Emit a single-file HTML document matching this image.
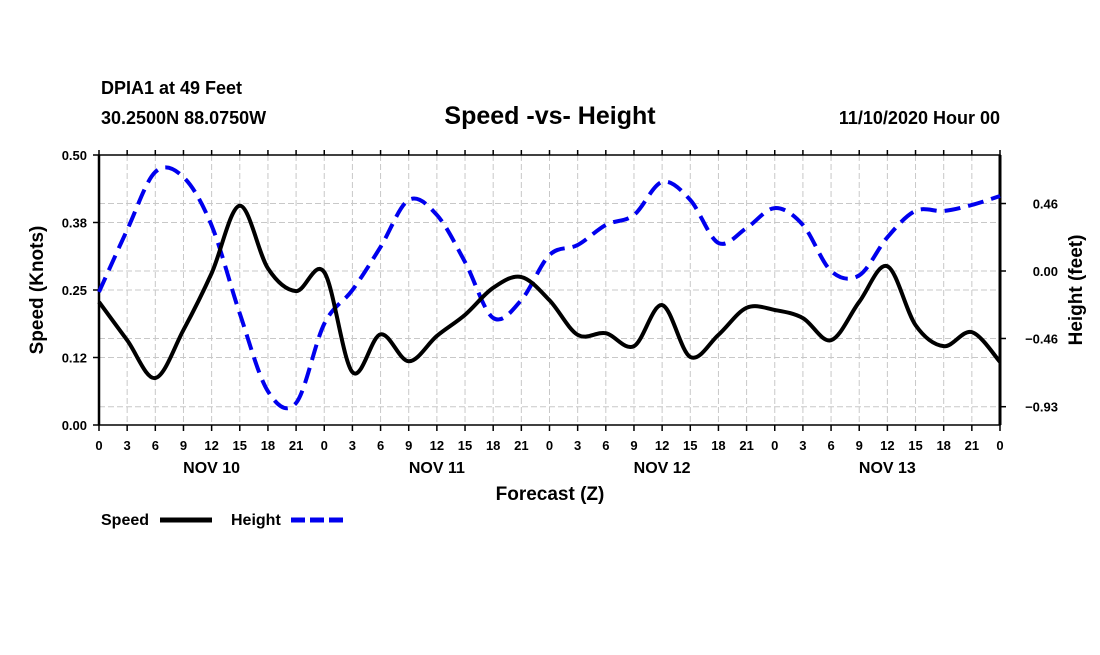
<!DOCTYPE html>
<html><head><meta charset="utf-8"><style>
body{margin:0;background:#fff;}
svg text{font-family:"Liberation Sans",Arial,sans-serif;font-weight:bold;fill:#000;}
</style></head><body>
<svg id="chart" width="1100" height="650" xmlns="http://www.w3.org/2000/svg">
<text x="101" y="94" font-size="18">DPIA1 at 49 Feet</text>
<text x="101" y="124" font-size="18">30.2500N 88.0750W</text>
<text x="550" y="124" font-size="25" text-anchor="middle">Speed -vs- Height</text>
<text x="1000" y="124" font-size="18" text-anchor="end">11/10/2020 Hour 00</text>
<g id="grid"></g>
<g id="axes"></g>
<g id="series"></g>
<text transform="translate(43,290) rotate(-90)" font-size="19" text-anchor="middle">Speed (Knots)</text>
<text transform="translate(1082,290) rotate(-90)" font-size="19" text-anchor="middle">Height (feet)</text>
<text x="550" y="500" font-size="19" text-anchor="middle">Forecast (Z)</text>
<g>
<text x="101" y="525" font-size="16">Speed</text>
<line x1="160" y1="520" x2="212" y2="520" stroke="#000" stroke-width="5"/>
<text x="231" y="525" font-size="16">Height</text>
<line x1="291" y1="520" x2="343" y2="520" stroke="#0000ee" stroke-width="5" stroke-dasharray="14,5"/>
</g>
</svg>
<script>
const hours=[0,3,6,9,12,15,18,21,0,3,6,9,12,15,18,21,0,3,6,9,12,15,18,21,0,3,6,9,12,15,18,21,0];
const dayLabels=["NOV 10","NOV 11","NOV 12","NOV 13"];
const speedTicks=["0.00","0.12","0.25","0.38","0.50"];
const speedTickVals=[0,0.125,0.25,0.375,0.5];
const heightTicks=["0.46","0.00","\u22120.46","\u22120.93"];
const heightTickVals=[0.46,0,-0.46,-0.925];
const speed=[0.228,0.157,0.087,0.176,0.281,0.406,0.29,0.248,0.283,0.098,0.168,0.118,0.165,0.204,0.254,0.274,0.231,0.167,0.17,0.146,0.222,0.126,0.167,0.217,0.213,0.198,0.157,0.228,0.294,0.185,0.146,0.172,0.117];
const height=[-0.143,0.28,0.675,0.64,0.31,-0.29,-0.82,-0.9,-0.36,-0.13,0.164,0.484,0.382,0.061,-0.32,-0.198,0.109,0.177,0.314,0.382,0.607,0.484,0.191,0.293,0.429,0.314,0.0,-0.03,0.23,0.41,0.409,0.45,0.511];
const X0=99,X1=1000,Y0=155,Y1=425;
const xs=i=>X0+(X1-X0)*i/(hours.length-1);
const ys=v=>Y1-(Y1-Y0)*v/0.5;
const yh=h=>271-h*146.7;
const NS="http://www.w3.org/2000/svg";
function mk(tag,attrs,parent){const e=document.createElementNS(NS,tag);for(const k in attrs)e.setAttribute(k,attrs[k]);parent.appendChild(e);return e;}
const grid=document.getElementById('grid'),axes=document.getElementById('axes'),series=document.getElementById('series');
hours.forEach((h,i)=>{const x=xs(i);
 if(i>0&&i<hours.length-1){const g=mk('line',{x1:x,y1:Y0,x2:x,y2:Y1,stroke:'#c8c8c8','stroke-dasharray':'6,3'},grid);
 }
 const t=mk('line',{x1:x,y1:Y1,x2:x,y2:Y1+6,stroke:'#000','stroke-width':1.5},axes);
 
 const t2=mk('line',{x1:x,y1:Y0,x2:x,y2:Y0-5,stroke:'#000','stroke-width':1.5},axes);
 
 const l=mk('text',{x:x,y:450,'font-size':13,'text-anchor':'middle'},axes);l.textContent=h;
 });
dayLabels.forEach((d,k)=>{const l=mk('text',{x:xs(4+8*k),y:473,'font-size':16,'text-anchor':'middle'},axes);l.textContent=d;
 });
speedTickVals.forEach((v,k)=>{const y=ys(v);
 if(k>0&&k<4){const g=mk('line',{x1:X0,y1:y,x2:X1,y2:y,stroke:'#c8c8c8','stroke-dasharray':'6,3'},grid);
 }
 const t=mk('line',{x1:X0-6,y1:y,x2:X0,y2:y,stroke:'#000','stroke-width':1.5},axes);
 
 const l=mk('text',{x:87,y:y+5,'font-size':13,'text-anchor':'end'},axes);l.textContent=speedTicks[k];
 });
heightTickVals.forEach((v,k)=>{const y=yh(v);
 const g=mk('line',{x1:X0,y1:y,x2:X1,y2:y,stroke:'#c8c8c8','stroke-dasharray':'6,3'},grid);
 
 const t=mk('line',{x1:X1,y1:y,x2:X1+6,y2:y,stroke:'#000','stroke-width':1.5},axes);
 
 const l=mk('text',{x:1058,y:y+5,'font-size':13,'text-anchor':'end'},axes);l.textContent=heightTicks[k];
 });
const fr=mk('path',{d:`M${X0},${Y0}H${X1}V${Y1}H${X0}Z`,fill:'none',stroke:'#000','stroke-width':1.5},axes);

const la=mk('line',{x1:X0,y1:Y0,x2:X0,y2:Y1,stroke:'#000','stroke-width':2.5},axes);

const ra=mk('line',{x1:X1,y1:Y0,x2:X1,y2:Y1,stroke:'#000','stroke-width':3},axes);

function smooth(pts){let d=`M${pts[0][0]},${pts[0][1]}`;
 for(let i=0;i<pts.length-1;i++){const p0=pts[Math.max(i-1,0)],p1=pts[i],p2=pts[i+1],p3=pts[Math.min(i+2,pts.length-1)];
 d+=` C${p1[0]+(p2[0]-p0[0])/6},${p1[1]+(p2[1]-p0[1])/6} ${p2[0]-(p3[0]-p1[0])/6},${p2[1]-(p3[1]-p1[1])/6} ${p2[0]},${p2[1]}`;}
 return d;}
const hp=mk('path',{d:smooth(height.map((v,i)=>[xs(i),yh(v)])),fill:'none',stroke:'#0000ee','stroke-width':4,'stroke-dasharray':'16,8'},series);

const sp=mk('path',{d:smooth(speed.map((v,i)=>[xs(i),ys(v)])),fill:'none',stroke:'#000','stroke-width':4},series);

</script>
</body></html>
